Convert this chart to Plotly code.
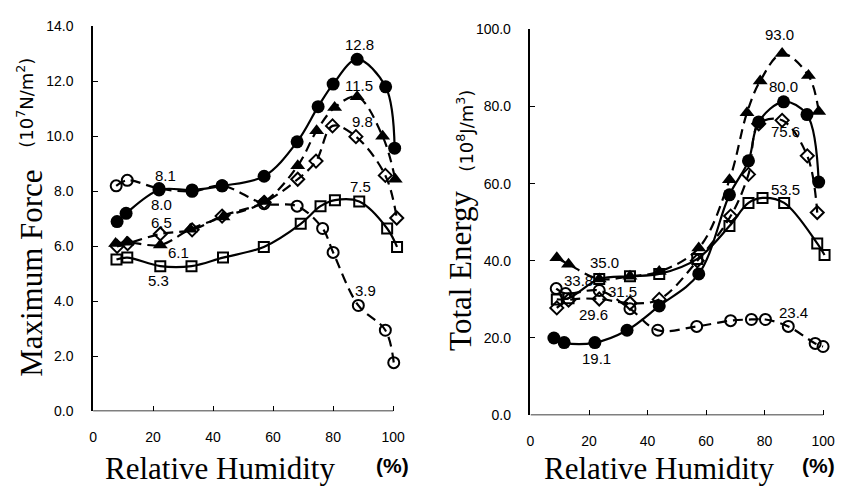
import plotly.graph_objects as go

# ---------------- Left panel: Maximum Force (10^7 N/m^2) ----------------
rh_f_circle = [8, 11, 22, 33, 43, 57, 68, 75, 80, 88, 97.5, 100.5]
force_circle = [6.9, 7.2, 8.05, 8.05, 8.2, 8.55, 9.8, 11.08, 11.9, 12.8, 11.8, 9.57]

rh_f_ocircle = [7.7, 11.4, 22, 33, 43, 57, 68, 76.5, 80, 88.4, 97.4, 100.2]
force_ocircle = [8.2, 8.4, 8.1, 8.0, 8.2, 7.55, 7.46, 6.65, 5.78, 3.85, 2.95, 1.77]

rh_f_tri = [7.5, 11.2, 22.4, 32.4, 43.3, 57.2, 68.2, 74.5, 80.5, 88, 96.5, 100.7]
force_tri = [6.1, 6.15, 6.05, 6.62, 7.07, 7.63, 8.93, 10.2, 11.05, 11.44, 10.0, 8.44]

rh_f_diamond = [8, 11.5, 22.4, 33, 43, 57, 68.2, 74.3, 79.8, 87.6, 97.4, 101.2]
force_diamond = [6.0, 6.1, 6.45, 6.6, 7.1, 7.6, 8.44, 9.1, 10.38, 9.99, 8.58, 7.03]

rh_f_square = [7.8, 11.4, 22.4, 32.8, 43.3, 56.9, 69.2, 75.8, 80.6, 88.7, 98, 101.3]
force_square = [5.52, 5.59, 5.28, 5.28, 5.59, 5.98, 6.82, 7.46, 7.68, 7.63, 6.65, 5.98]

force_labels = ["12.8", "11.5", "9.8", "8.1", "8.0", "6.5", "6.1", "5.3", "7.5", "3.9"]
force_label_x = [88.7, 88.7, 89.7, 24.0, 22.7, 22.7, 28.4, 21.7, 89.1, 90.7]
force_label_y = [13.33, 11.85, 10.55, 8.58, 7.52, 6.88, 5.77, 4.75, 8.16, 4.40]

# ---------------- Right panel: Total Energy (10^8 J/m^3) ----------------
rh_e_tri = [9, 13, 23.5, 34, 44, 57.5, 68, 74, 78.5, 86, 95, 98.5]
energy_tri = [40.8, 39.1, 35.3, 36.0, 37.2, 43.3, 61.0, 78.4, 86.6, 93.7, 88.0, 78.7]

rh_e_circle = [8, 11.5, 22, 33, 44, 57.5, 68, 74.5, 78, 86.5, 94.5, 98.5]
energy_circle = [20.0, 18.8, 18.8, 22.0, 28.3, 36.6, 57.1, 65.9, 76.0, 81.2, 77.9, 60.4]

rh_e_square = [9, 13, 23.5, 34, 44, 57, 68, 74.5, 79.3, 86.7, 98, 100.5]
energy_square = [30.0, 30.3, 35.3, 36.0, 36.6, 40.5, 49.0, 55.0, 56.3, 55.0, 44.5, 41.5]

rh_e_diamond = [9, 13, 23.5, 34, 44, 57, 68.4, 74.5, 78, 86, 94.6, 98]
energy_diamond = [27.8, 29.8, 30.1, 29.0, 30.0, 40.0, 51.6, 62.4, 75.5, 76.4, 67.2, 52.5]

rh_e_ocircle = [8.8, 12, 23.5, 34, 43.5, 56.8, 68.4, 75.5, 80.3, 88.1, 97.3, 100]
energy_ocircle = [32.8, 31.5, 32.3, 27.6, 22.0, 23.0, 24.5, 24.8, 24.8, 23.0, 18.6, 17.8]

energy_labels = ["93.0", "80.0", "75.6", "53.5", "35.0", "33.8", "31.5", "29.6", "19.1", "23.4"]
energy_label_x = [85.0, 86.4, 87.1, 87.1, 25.2, 16.3, 31.6, 21.4, 22.4, 89.8]
energy_label_y = [98.7, 85.2, 73.4, 58.4, 39.6, 34.8, 32.1, 26.1, 14.8, 26.6]

x_ticks = [0, 20, 40, 60, 80, 100]
force_ticks = [0, 2, 4, 6, 8, 10, 12, 14]
energy_ticks = [0, 20, 40, 60, 80, 100]

W, H = 842, 487
DASH = "10px,6px"
BLACK = "black"
XMAX = 104  # extra room so the last markers (just past 100 %) stay visible

fig = go.Figure()


def add_series(x, y, xa, ya, symbol, size, dash, open_marker):
    fig.add_trace(go.Scatter(
        x=x, y=y, xaxis=xa, yaxis=ya, mode="lines+markers",
        line=dict(color=BLACK, width=2.2, dash=dash, shape="spline", smoothing=1.0),
        marker=dict(symbol=symbol, size=size, color=BLACK,
                    line=dict(color=BLACK, width=2 if open_marker else 0)),
        cliponaxis=False, showlegend=False, hoverinfo="skip"))


# left
add_series(rh_f_square, force_square, "x", "y", "square-open", 10, "solid", True)
add_series(rh_f_ocircle, force_ocircle, "x", "y", "circle-open", 11, DASH, True)
add_series(rh_f_diamond, force_diamond, "x", "y", "diamond-open", 10, DASH, True)
add_series(rh_f_tri, force_tri, "x", "y", "triangle-up", 13, DASH, False)
add_series(rh_f_circle, force_circle, "x", "y", "circle", 13, "solid", False)
# right
add_series(rh_e_square, energy_square, "x2", "y2", "square-open", 10, "solid", True)
add_series(rh_e_ocircle, energy_ocircle, "x2", "y2", "circle-open", 11, DASH, True)
add_series(rh_e_diamond, energy_diamond, "x2", "y2", "diamond-open", 10, DASH, True)
add_series(rh_e_tri, energy_tri, "x2", "y2", "triangle-up", 13, DASH, False)
add_series(rh_e_circle, energy_circle, "x2", "y2", "circle", 13, "solid", False)

tickfont = dict(family="Liberation Sans, Arial, sans-serif", size=14, color=BLACK)
axis_common = dict(linecolor=BLACK, linewidth=1.5, ticks="inside",
                   ticklen=5, tickcolor=BLACK, showgrid=False, zeroline=False,
                   tickfont=tickfont)

# pixel geometry of each panel (0 % and 100 % positions)
lx0, lx100 = 89.5, 391.0
rx0, rx100 = 529.0, 823.0
lx_end = lx0 + (lx100 - lx0) * XMAX / 100
rx_end = rx0 + (rx100 - rx0) * XMAX / 100

fig.update_layout(
    width=W, height=H, margin=dict(l=0, r=0, t=0, b=0),
    paper_bgcolor="white", plot_bgcolor="white",
    xaxis=dict(domain=[lx0 / W, lx_end / W], range=[0, XMAX], anchor="y", showline=False,
               tickvals=x_ticks, ticklabelstandoff=16, **axis_common),
    yaxis=dict(domain=[(H - 417) / H, (H - 19) / H], range=[0, 14], anchor="x", showline=True,
               tickvals=force_ticks, tickformat=".1f", ticklabelstandoff=15, **axis_common),
    xaxis2=dict(domain=[rx0 / W, rx_end / W], range=[0, XMAX], anchor="y2", showline=False,
                tickvals=x_ticks, ticklabelstandoff=16, **axis_common),
    yaxis2=dict(domain=[(H - 421) / H, (H - 22) / H], range=[0, 100], anchor="x2", showline=True,
                tickvals=energy_ticks, tickformat=".1f", ticklabelstandoff=15, **axis_common),
)

# x-axis baselines that stop at 100 %
fig.add_shape(type="line", xref="x", yref="y", x0=0, x1=100, y0=0, y1=0,
              line=dict(color=BLACK, width=1.5))
fig.add_shape(type="line", xref="x2", yref="y2", x0=0, x1=100, y0=0, y1=0,
              line=dict(color=BLACK, width=1.5))

labfont = dict(family="Liberation Sans, Arial, sans-serif", size=15, color=BLACK)
for t, x, y in zip(force_labels, force_label_x, force_label_y):
    fig.add_annotation(x=x, y=y, xref="x", yref="y", text=t, showarrow=False, font=labfont)
for t, x, y in zip(energy_labels, energy_label_x, energy_label_y):
    fig.add_annotation(x=x, y=y, xref="x2", yref="y2", text=t, showarrow=False, font=labfont)

serif = dict(family="Liberation Serif, Times New Roman, serif", size=31, color=BLACK)
unitfont = dict(family="DejaVu Sans, sans-serif", size=18, color=BLACK)
pctfont = dict(family="Liberation Sans, Arial, sans-serif", size=21, color=BLACK)


def pix(px, py, text, font, angle=0):
    fig.add_annotation(x=px / W, y=(H - py) / H, xref="paper", yref="paper",
                       xanchor="center", yanchor="middle", text=text,
                       showarrow=False, font=font, textangle=angle)


pix(217, 476, "Relative Humidity", serif)
pix(390, 473, "<b>(%)</b>", pctfont)
pix(658, 476, "Relative Humidity", serif)
pix(818, 473, "<b>(%)</b>", pctfont)
pix(28, 274, "Maximum Force", serif, -90)
pix(21, 98, "(10<sup>7</sup>N/m<sup>2</sup>)", unitfont, -90)
pix(458, 272, "Total Energy", serif, -90)
pix(463, 127, "(10<sup>8</sup>J/m<sup>3</sup>)", unitfont, -90)

fig.write_html("out.html")
